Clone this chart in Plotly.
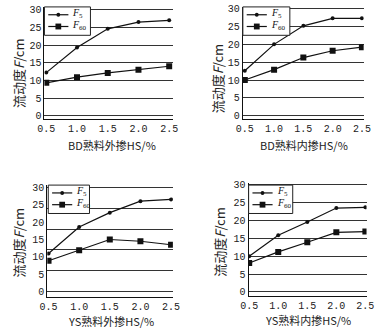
import plotly.graph_objects as go

# HS dosage (%)
hs = [0.5, 1.0, 1.5, 2.0, 2.5]

# Flow (cm) after 5 min and 60 min for each clinker / dosing mode
bd_ext_f5 = [12.2, 19.3, 24.6, 26.5, 27.0]
bd_ext_f60 = [9.3, 10.9, 12.1, 13.0, 14.0]
bd_int_f5 = [12.6, 20.0, 25.2, 27.3, 27.3]
bd_int_f60 = [10.0, 12.9, 16.3, 18.2, 19.2]
ys_ext_f5 = [11.0, 18.6, 22.7, 26.0, 26.5]
ys_ext_f60 = [8.9, 11.9, 15.0, 14.5, 13.5]
ys_int_f5 = [10.0, 15.9, 19.6, 23.5, 23.7]
ys_int_f60 = [8.1, 11.2, 13.9, 16.7, 16.9]

series_names = ["<i>F</i><sub>5</sub>", "<i>F</i><sub>60</sub>"]
x_titles = ["BD熟料外掺HS/%", "BD熟料内掺HS/%", "YS熟料外掺HS/%", "YS熟料内掺HS/%"]
y_title = "流动度<i>F</i>/cm"
series = [
    (bd_ext_f5, bd_ext_f60),
    (bd_int_f5, bd_int_f60),
    (ys_ext_f5, ys_ext_f60),
    (ys_int_f5, ys_int_f60),
]

W, H = 387, 334
# plot-area boxes in pixels: (left, right, top, bottom), x range, y range
boxes = [
    ((38, 172, 4, 118), [0.47, 2.56], [-0.8, 30.8]),
    ((245, 371, 4, 118), [0.467, 2.53], [-0.8, 30.5]),
    ((41, 172, 186, 300), [0.48, 2.53], [-1.4, 30.6]),
    ((251, 374, 184, 299), [0.49, 2.52], [-1.1, 30.5]),
]
# (x-title cx, cy, y-title cx, cy) in pixels
title_pos = [(108, 145, 11, 72), (309, 145, 218, 77), (107, 325, 11, 245), (313, 324, 221, 244)]
# legend boxes: (left, top, width, height) in pixels
legend_boxes = [(38, 4, 48, 29), (245, 4, 49, 29), (42, 186, 43, 29), (251, 186, 46, 29)]

TICK_FONT = dict(family="Liberation Mono, DejaVu Sans Mono, monospace", size=10, color="#222")
CJK = "Noto Sans CJK SC, sans-serif"
INK = "#111"


def px(x):
    return x / W


def py(y):
    return 1 - y / H


fig = go.Figure()
layout = {}
annotations = []
shapes = []

for i, ((f5, f60), xt, ((l, r, t, b), xr, yr), (tx, ty, yx, yy), (ll, lt, lw, lh)) in enumerate(
        zip(series, x_titles, boxes, title_pos, legend_boxes)):
    n = "" if i == 0 else str(i + 1)
    fig.add_trace(go.Scatter(
        x=hs, y=f5, mode="lines+markers", name=series_names[0],
        line=dict(color=INK, width=1.2),
        marker=dict(symbol="circle", size=4, color=INK),
        xaxis="x" + n, yaxis="y" + n, showlegend=False,
    ))
    fig.add_trace(go.Scatter(
        x=hs, y=f60, mode="lines+markers", name=series_names[1],
        line=dict(color=INK, width=1.2),
        marker=dict(symbol="square", size=6, color=INK),
        xaxis="x" + n, yaxis="y" + n, showlegend=False,
    ))
    layout["xaxis" + n] = dict(
        domain=[px(l), px(r)], range=xr, anchor="y" + n, tickvals=hs, tickformat=".1f",
        showgrid=False, zeroline=False, showline=True, linecolor=INK, linewidth=1,
        ticks="", tickfont=TICK_FONT, ticklabelstandoff=0,
    )
    layout["yaxis" + n] = dict(
        domain=[py(b), py(t)], range=yr, anchor="x" + n, dtick=5, tick0=0,
        showgrid=(i != 2), gridcolor="#333", gridwidth=1, zeroline=False,
        showline=True, linecolor=INK, linewidth=1, ticks="", tickfont=TICK_FONT,
    )
    annotations.append(dict(
        x=px(tx), y=py(ty), xref="paper", yref="paper", text=xt, showarrow=False,
        font=dict(family=CJK, size=11, color="#222"), xanchor="center", yanchor="middle",
    ))
    annotations.append(dict(
        x=px(yx), y=py(yy), xref="paper", yref="paper", text=y_title,
        textangle=-90, showarrow=False,
        font=dict(family=CJK, size=13, color="#222"), xanchor="center", yanchor="middle",
    ))

    # legend box with line/marker samples
    shapes.append(dict(type="rect", xref="paper", yref="paper",
                       x0=px(ll), x1=px(ll + lw), y0=py(lt + lh), y1=py(lt),
                       line=dict(color="#222", width=1), fillcolor="white", layer="above"))
    for k, (sym_type, size) in enumerate([("circle", 2), ("rect", 3)]):
        ry = lt + 8 + 12 * k
        shapes.append(dict(type="line", xref="paper", yref="paper",
                           x0=px(ll + 4), x1=px(ll + 25), y0=py(ry), y1=py(ry),
                           line=dict(color=INK, width=1.2), layer="above"))
        cx = ll + 14.5
        shapes.append(dict(type=sym_type, xref="paper", yref="paper",
                           x0=px(cx - size), x1=px(cx + size), y0=py(ry + size), y1=py(ry - size),
                           line=dict(color=INK, width=0), fillcolor=INK, layer="above"))
        annotations.append(dict(
            x=px(ll + 27), y=py(ry - 1), xref="paper", yref="paper", text=series_names[k],
            showarrow=False, xanchor="left", yanchor="middle",
            font=dict(family="Liberation Serif, serif", size=10, color=INK),
        ))

# third panel draws its grid on a 6 cm spacing
layout["yaxis5"] = dict(
    overlaying="y3", anchor="x3", range=boxes[2][2], dtick=6, tick0=0,
    showgrid=True, gridcolor="#333", gridwidth=1, zeroline=False,
    showticklabels=False, ticks="", showline=False,
)
fig.add_trace(go.Scatter(x=[None], y=[None], xaxis="x3", yaxis="y5", showlegend=False, hoverinfo="skip"))

fig.update_layout(
    width=W, height=H, margin=dict(l=0, r=0, t=0, b=0),
    paper_bgcolor="white", plot_bgcolor="white", showlegend=False,
    annotations=annotations, shapes=shapes, **layout,
)
fig.write_html("out.html")
